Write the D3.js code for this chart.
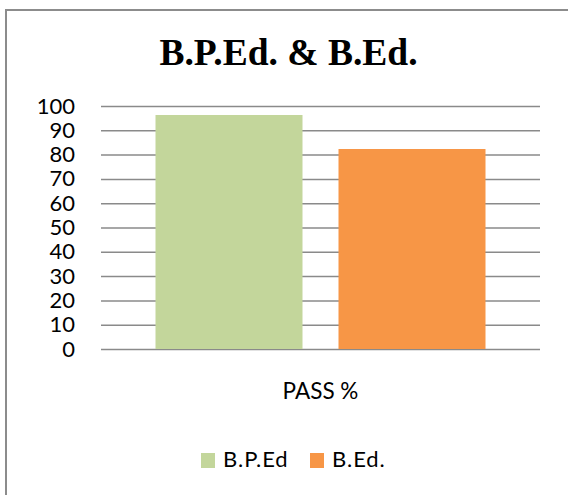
<!DOCTYPE html>
<html>
<head>
<meta charset="utf-8">
<script src="https://cdn.jsdelivr.net/npm/d3@7"></script>
<style>
  body { margin: 0; background: #fff; }
  svg { display: block; }
</style>
</head>
<body>
<div id="chart"></div>
<script>
const categories = ["PASS %"];
const seriesNames = ["B.P.Ed", "B.Ed."];
const seriesValues = [96.3, 82.3];
const seriesColors = ["#C3D69B", "#F79646"];
const yTicks = [0, 10, 20, 30, 40, 50, 60, 70, 80, 90, 100];

const width = 568;
const height = 495;
const plot = { left: 101, right: 540, top: 106, bottom: 349 };
const labelFont = "Lato, 'Open Sans', sans-serif";

const svg = d3.select("#chart")
    .append("svg")
        .attr("width", width)
        .attr("height", height);

// chart frame (right and bottom edges fall outside the picture)
svg.append("rect")
    .attr("x", 6)
    .attr("y", 10)
    .attr("width", 620)
    .attr("height", 620)
    .attr("fill", "none")
    .attr("stroke", "#8c8c8c")
    .attr("stroke-width", 2);

svg.append("text")
    .attr("x", 288.5)
    .attr("y", 65)
    .attr("text-anchor", "middle")
    .style("font-family", "'Liberation Serif', 'Times New Roman', serif")
    .style("font-weight", "bold")
    .style("font-size", "37.5px")
    .text("B.P.Ed. & B.Ed.");

const y = d3.scaleLinear()
    .domain([0, 100])
    .range([plot.bottom, plot.top]);

const x0 = d3.scaleBand()
    .domain(categories)
    .range([plot.left, plot.right]);

const x1 = d3.scaleBand()
    .domain(seriesNames)
    .range([54.5, 384.5])
    .paddingInner(36 / 183);

// gridlines + tick labels
const yAxis = svg.append("g")
    .attr("transform", `translate(${plot.left},0)`)
    .call(d3.axisLeft(y)
        .tickValues(yTicks)
        .tickSizeInner(-(plot.right - plot.left))
        .tickSizeOuter(0)
        .tickPadding(26));

yAxis.select(".domain").remove();
yAxis.selectAll(".tick line")
    .attr("stroke", "#8a8a8a")
    .attr("stroke-width", 1.5);
yAxis.selectAll(".tick text")
    .attr("fill", "#000")
    .style("font-family", labelFont)
    .style("font-size", "22px");

// bars
const groups = svg.selectAll("g.cat")
    .data(categories)
    .enter()
    .append("g")
        .attr("class", "cat")
        .attr("transform", d => `translate(${x0(d)},0)`);

groups.selectAll("rect")
    .data(() => seriesNames.map((s, i) => ({ name: s, value: seriesValues[i], color: seriesColors[i] })))
    .enter()
    .append("rect")
        .attr("x", d => x1(d.name))
        .attr("y", d => y(d.value))
        .attr("width", x1.bandwidth())
        .attr("height", d => y(0) - y(d.value))
        .attr("fill", d => d.color);

// category label
svg.selectAll("text.cat")
    .data(categories)
    .enter()
    .append("text")
        .attr("class", "cat")
        .attr("x", d => x0(d) + x0.bandwidth() / 2)
        .attr("y", 399)
        .attr("text-anchor", "middle")
        .style("font-family", labelFont)
        .style("font-size", "22.5px")
        .text(d => d);

// legend
const legendX = [201, 310];
const legend = svg.selectAll("g.legend")
    .data(seriesNames)
    .enter()
    .append("g")
        .attr("class", "legend")
        .attr("transform", (d, i) => `translate(${legendX[i]},453)`);

legend.append("rect")
    .attr("width", 14)
    .attr("height", 15)
    .attr("fill", (d, i) => seriesColors[i]);

legend.append("text")
    .attr("x", 22)
    .attr("y", 14)
    .style("font-family", labelFont)
    .style("font-size", "22px")
    .style("letter-spacing", "0.9px")
    .text(d => d);
</script>
</body>
</html>
